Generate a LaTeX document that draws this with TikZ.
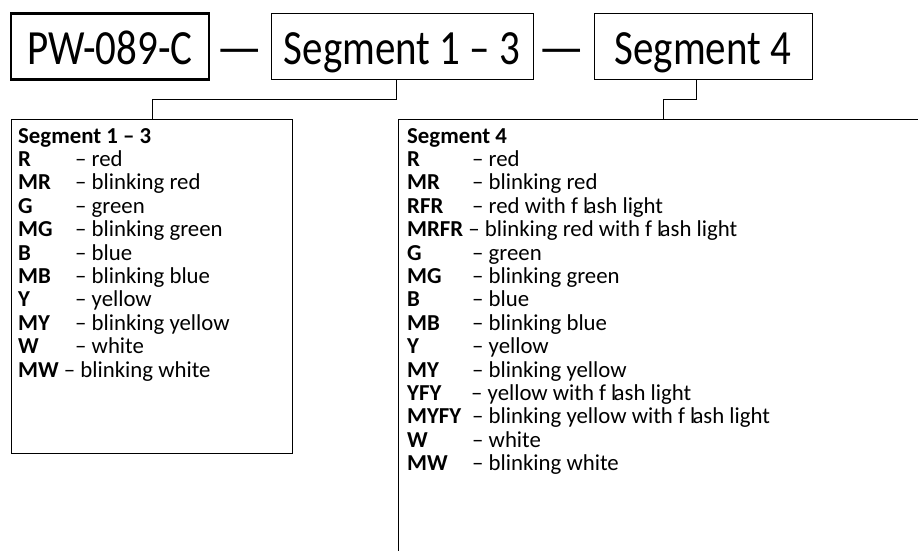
\documentclass[tikz,border=0pt]{standalone}
\usepackage{fontspec}
\setmainfont{Carlito}
\usepackage{graphicx}
\newcommand{\fl}{f\hspace{0.22em}l\kern-0.12em ash}
\newcommand{\lab}[2]{\makebox[#1][l]{\textbf{#2}}}
\newcommand{\tall}[1]{\scalebox{1}[1.2]{#1}}
\begin{document}
\begin{tikzpicture}[x=1pt,y=-1pt,
  topbox/.style={draw,line width=0.9pt,inner sep=0,minimum height=66pt,text height=40pt,text depth=4pt,font=\fontsize{41}{48}\selectfont},
  dashtxt/.style={inner sep=0,text height=40pt,text depth=4pt,font=\fontsize{41}{48}\selectfont},
  listbox/.style={draw,line width=0.9pt,inner sep=0,anchor=north west},
  listtxt/.style={inner sep=0,anchor=base west,align=left,font=\fontsize{22.8}{23.4}\selectfont},
  link/.style={draw,line width=0.9pt}]
\useasboundingbox (0,0) rectangle (918,551);
\clip (0,0) rectangle (918,551);
% top row
\node[topbox,line width=2.4pt,minimum width=198pt] (pw) at (110,46.5) {\tall{PW-089-C}};
\node[topbox,minimum width=262pt] (s13) at (402,46) {\tall{Segment 1 -- 3}};
\node[topbox,minimum width=218pt] (s4) at (703,46) {\tall{Segment 4}};
\node[dashtxt] (d1) at (240,46) {\scalebox{1.25}[1.2]{—}};
\node[dashtxt] (d2) at (562,46) {\scalebox{1.25}[1.2]{—}};
% list boxes
\node[listbox,minimum width=281pt,minimum height=334pt] (lb) at (11,119) {};
\node[listbox,minimum width=560pt,minimum height=480pt] (rb) at (398,119) {};
% connectors
\coordinate (c1) at (396,79);
\coordinate (c2) at (696,79);
\draw[link] (c1) -- (396,99) -| (152,119);
\draw[link] (c2) -- (696,99) -| (663,119);
% texts
\node[listtxt] (lt) at (18,143) {%
\begin{tabular}[t]{@{}l@{}}
\textbf{Segment 1 -- 3}\\
\lab{57pt}{R}-- red\\
\lab{57pt}{MR}-- blinking red\\
\lab{57pt}{G}-- green\\
\lab{57pt}{MG}-- blinking green\\
\lab{57pt}{B}-- blue\\
\lab{57pt}{MB}-- blinking blue\\
\lab{57pt}{Y}-- yellow\\
\lab{57pt}{MY}-- blinking yellow\\
\lab{57pt}{W}-- white\\
\textbf{MW} -- blinking white
\end{tabular}};
\node[listtxt] (rt) at (407,143) {%
\begin{tabular}[t]{@{}l@{}}
\textbf{Segment 4}\\
\lab{65pt}{R}-- red\\
\lab{65pt}{MR}-- blinking red\\
\lab{65pt}{RFR}-- red with \fl{} light\\
\textbf{MRFR} -- blinking red with \fl{} light\\
\lab{65pt}{G}-- green\\
\lab{65pt}{MG}-- blinking green\\
\lab{65pt}{B}-- blue\\
\lab{65pt}{MB}-- blinking blue\\
\lab{65pt}{Y}-- yellow\\
\lab{65pt}{MY}-- blinking yellow\\
\lab{64pt}{YFY}-- yellow with \fl{} light\\
\lab{65pt}{MYFY}-- blinking yellow with \fl{} light\\
\lab{65pt}{W}-- white\\
\lab{65pt}{MW}-- blinking white
\end{tabular}};
\end{tikzpicture}
\end{document}
